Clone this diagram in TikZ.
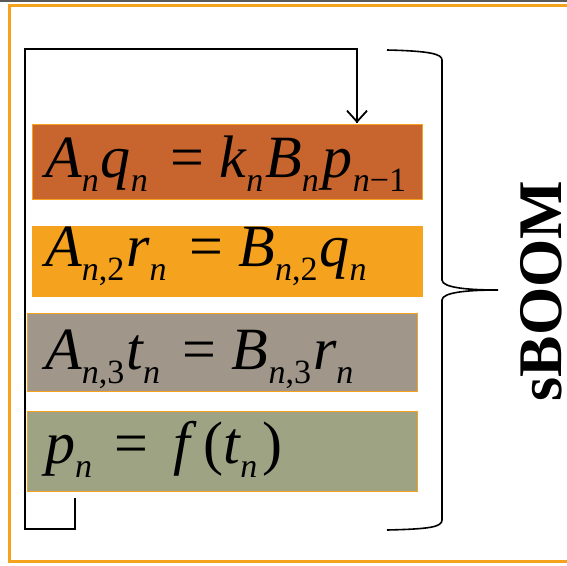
\documentclass[tikz,border=0pt]{standalone}
\usepackage{fontspec}
\setmainfont{Liberation Serif}[ItalicFont={Liberation Serif Italic}]
\usetikzlibrary{arrows.meta}
\definecolor{boxA}{HTML}{C8652F}
\definecolor{boxB}{HTML}{F5A21E}
\definecolor{boxC}{HTML}{A0978A}
\definecolor{boxD}{HTML}{9EA383}
\definecolor{frameor}{HTML}{F5A21E}
\newcommand\sbs[1]{\raisebox{-14pt}{\fontsize{34}{34}\selectfont #1}\hspace{2pt}}
\newcommand\eqs{\hspace{0.34em}=\hspace{0.26em}}
\tikzset{
  eqbox/.style={draw=frameor, line width=1pt, minimum width=390pt, inner sep=0pt, anchor=north west},
  eqtext/.style={anchor=base west, inner sep=0pt, font=\fontsize{60}{70}\selectfont},
  wire/.style={draw=black, line width=1.8pt},
}
\begin{document}
\begin{tikzpicture}[x=1pt,y=-1pt]
\useasboundingbox (0,0) rectangle (567,565);
\fill[white] (0,0) rectangle (567,565);
% top dark rule and outer orange frame
\draw[gray!70!black, line width=2pt] (0,1) -- (567,1);
\draw[frameor, line width=3pt] (567,5) -- (9,5) -- (9,561) -- (567,561);
% boxes
\node[eqbox, fill=boxA, minimum height=75pt] (b1) at (31.5,123.5) {};
\node[eqbox, fill=boxB, minimum height=70pt] (b2) at (31.5,225.5) {};
\node[eqbox, fill=boxC, minimum height=78pt] (b3) at (27,313) {};
\node[eqbox, fill=boxD, minimum height=80pt] (b4) at (27,410.5) {};
% equations
\node[eqtext] (e1) at (45,177) {\textit{A\sbs{n}q\sbs{n}}\eqs\textit{k\sbs{n}B\sbs{n}\hspace{2pt}p\sbs{n\textup{−1}}}};
\node[eqtext] (e2) at (45,266) {\textit{A\sbs{n\textup{,2}}r\sbs{n}}\eqs\textit{B\sbs{n\textup{,2}}q\sbs{n}}};
\node[eqtext] (e3) at (45,369) {\textit{A\sbs{n\textup{,3}}t\sbs{n}}\eqs\textit{B\sbs{n\textup{,3}}r\sbs{n}}};
\node[eqtext] (e4) at (45,463) {\textit{p\sbs{n}}\eqs\hspace{0.15em}\textit{f}\hspace{0.12em}(\textit{t\sbs{n}}\hspace{0.05em})};
% feedback loop
\coordinate (fa) at (75,498);
\coordinate (fb) at (75,529);
\coordinate (fc) at (25,529);
\coordinate (fd) at (25,49);
\coordinate (fe) at (357,49);
\coordinate (tip) at (357,123);
\draw[wire, line join=miter] (fa) -- (fb) -- (fc) -- (fd) -- (fe) -- (tip);
\draw[wire, -{Straight Barb[length=11pt,width=20pt]}] (fe) -- (tip);
% brace
\draw[line width=1.6pt] (387,50) .. controls (430,51) and (442,54) .. (442,60)
  -- (442,280) .. controls (442,288) and (470,290) .. (498,290)
  .. controls (470,290) and (442,292) .. (442,300)
  -- (442,520) .. controls (442,527) and (430,529) .. (387,530);
\node[rotate=90, anchor=base, inner sep=0pt, font=\fontsize{62}{70}\selectfont\bfseries] (lbl) at (561,291) {sBOOM};
\end{tikzpicture}
\end{document}
